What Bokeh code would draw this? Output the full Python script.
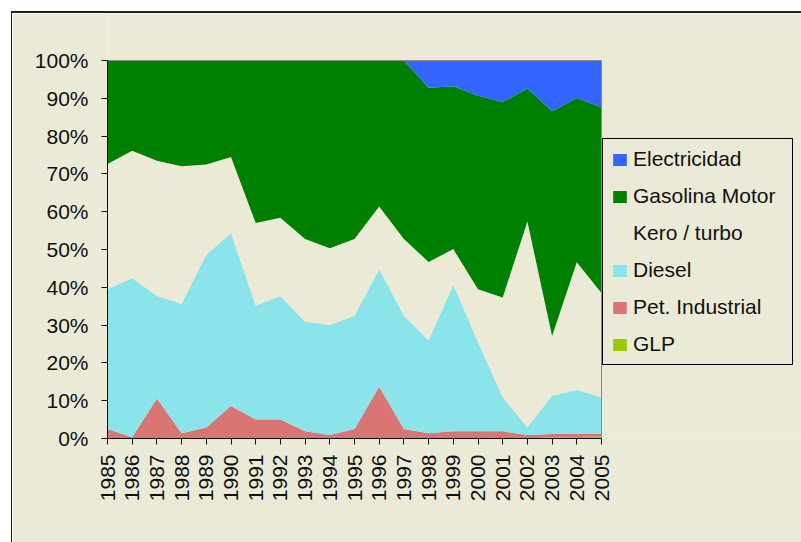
import math
from bokeh.plotting import figure
from bokeh.models import ColumnDataSource, Range1d, Legend, LegendItem, FixedTicker
from bokeh.embed import file_html
from bokeh.resources import INLINE

years = list(range(1985, 2006))

# shares in percent
glp = [0, 0, 0, 0, 0, 0, 0, 0, 0, 0, 0, 0, 0, 0, 0, 0, 0, 0, 0.3, 0.4, 0.5]
pet_industrial = [2.5, 0.3, 10.6, 1.4, 2.9, 8.6, 5.0, 5.0, 1.9, 0.9, 2.5,
                  13.7, 2.5, 1.4, 1.9, 1.9, 1.9, 0.9, 0.9, 0.8, 0.7]
diesel = [37.0, 42.1, 27.1, 34.2, 45.7, 45.7, 30.1, 32.6, 29.0, 29.1, 30.0,
          31.0, 30.0, 24.5, 38.7, 23.6, 9.0, 2.0, 10.1, 11.6, 9.7]
kero_turbo = [33.1, 33.7, 35.8, 36.4, 23.9, 20.2, 21.9, 20.8, 21.9, 20.3, 20.3,
              16.7, 20.3, 20.8, 9.5, 14.0, 26.4, 54.5, 15.8, 33.8, 27.6]
gasolina_motor = [27.4, 23.9, 26.5, 28.0, 27.5, 25.5, 43.0, 41.6, 47.2, 49.7, 47.2,
                  38.6, 47.2, 46.1, 43.1, 51.2, 51.7, 35.2, 59.5, 43.5, 49.1]
electricidad = [0, 0, 0, 0, 0, 0, 0, 0, 0, 0, 0,
                0, 0, 7.2, 6.8, 9.3, 11.0, 7.4, 13.4, 9.9, 12.4]

series_names = ["GLP", "Pet. Industrial", "Diesel", "Kero / turbo", "Gasolina Motor", "Electricidad"]
series_values = [glp, pet_industrial, diesel, kero_turbo, gasolina_motor, electricidad]
series_colors = ["#99CC00", "#DA7575", "#8AE4EA", "#EAEAD6", "#008000", "#3366FF"]

y_ticks = [0, 10, 20, 30, 40, 50, 60, 70, 80, 90, 100]
y_tick_labels = ["0%", "10%", "20%", "30%", "40%", "50%", "60%", "70%", "80%", "90%", "100%"]

BG = "#EAEAD6"
FONT = "Liberation Sans"

# layout in pixels: the data area is 494 x 378 px, the frame is extended
# to the right and upwards so that the legend can live inside it.
AREA_W, AREA_H = 494, 378
EXTRA_RIGHT, EXTRA_TOP = 200, 47
x0, x1 = years[0], years[-1]
y0, y1 = y_ticks[0], y_ticks[-1]
x_end = x1 + EXTRA_RIGHT * (x1 - x0) / AREA_W
y_end = y1 + EXTRA_TOP * (y1 - y0) / AREA_H

data = {"year": years}
keys = []
for i, (n, v) in enumerate(zip(series_names, series_values)):
    k = "s%d" % i
    keys.append(k)
    data[k] = v
source = ColumnDataSource(data)

p = figure(frame_width=AREA_W + EXTRA_RIGHT, frame_height=AREA_H + EXTRA_TOP,
           output_backend="svg", toolbar_location=None,
           x_range=Range1d(x0, x_end), y_range=Range1d(y0, y_end),
           min_border_left=95, min_border_top=0, min_border_right=0, min_border_bottom=104)
p.margin = (11, 0, 0, 11)
p.styles = {"border-left": "1px solid #222", "border-top": "2px solid #222"}
p.background_fill_color = BG
p.border_fill_color = BG
p.outline_line_color = None
p.xgrid.visible = False
p.ygrid.visible = False

rends = p.varea_stack(stackers=keys, x="year", color=series_colors, source=source)

# plot-area edge on top and right
p.line(x=[x0, x1, x1], y=[y1, y1, y0], line_color="#8a8a8a", line_width=1)

for ax in (p.xaxis[0], p.yaxis[0]):
    ax.axis_line_color = "#111111"
    ax.axis_line_width = 1
    ax.major_tick_line_color = "#111111"
    ax.major_tick_out = 6
    ax.major_tick_in = 0
    ax.minor_tick_out = 0
    ax.minor_tick_in = 0
    ax.major_label_text_font = FONT
    ax.major_label_text_font_size = "21px"
    ax.major_label_text_color = "#111111"

p.yaxis[0].ticker = FixedTicker(ticks=y_ticks)
p.yaxis[0].bounds = (y0, y1)
p.yaxis[0].major_label_overrides = {t: l for t, l in zip(y_ticks, y_tick_labels)}
p.yaxis[0].major_label_standoff = 13

p.xaxis[0].ticker = FixedTicker(ticks=years)
p.xaxis[0].bounds = (x0, x1)
p.xaxis[0].major_label_orientation = math.pi / 2
p.xaxis[0].major_label_standoff = 10

items = [LegendItem(label=n, renderers=[r]) for n, r in zip(series_names, rends)][::-1]
legend = Legend(items=items, location=(AREA_W + 1, 73))
legend.label_text_font = FONT
legend.label_text_font_size = "21px"
legend.label_text_color = "#111111"
legend.glyph_width = 17
legend.glyph_height = 15
legend.label_height = 23
legend.label_width = 151
legend.spacing = 13
legend.padding = 8
legend.margin = 0
legend.label_standoff = 5
legend.background_fill_color = BG
legend.background_fill_alpha = 1
legend.border_line_color = "#000000"
legend.border_line_width = 1
legend.border_line_alpha = 1
p.add_layout(legend, "center")

open("out.html", "w").write(file_html(p, INLINE))
